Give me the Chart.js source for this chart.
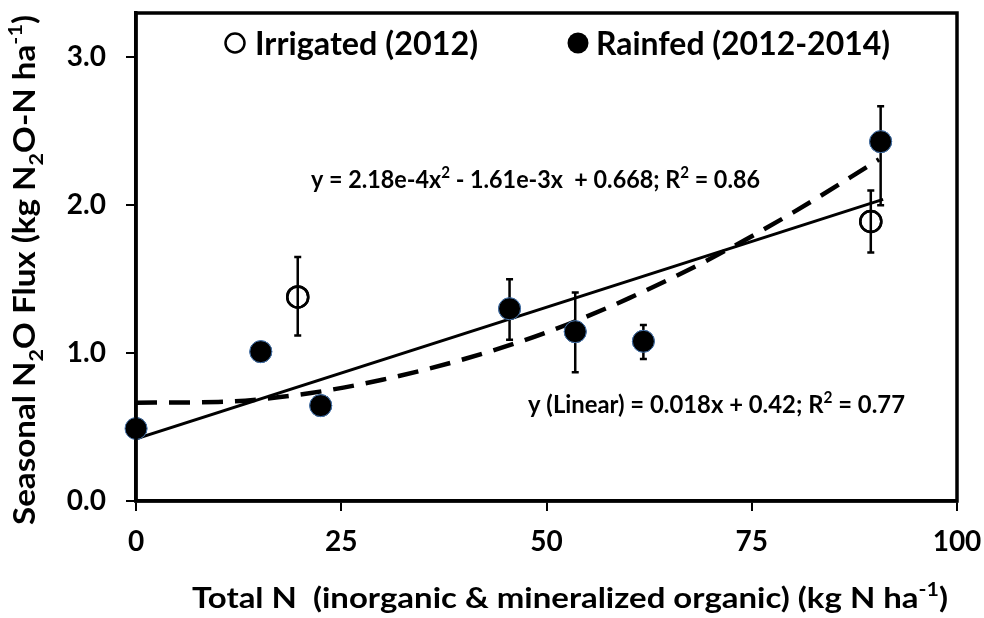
<!DOCTYPE html>
<html><head><meta charset="utf-8">
<script src="https://cdn.jsdelivr.net/npm/chart.js@4/dist/chart.umd.min.js"></script>
<style>html,body{margin:0;padding:0;background:#fff}#wrap{width:984px;height:618px}</style>
</head><body><div id="wrap"><canvas id="c" width="984" height="618"></canvas></div>
<script>
// Data
const irrigatedX = [19.7, 89.5];
const irrigatedY = [1.38, 1.89];
const irrigatedLo = [1.12, 1.68];
const irrigatedHi = [1.65, 2.10];

const rainfedX = [0, 15.2, 22.5, 45.5, 53.5, 61.8, 90.7];
const rainfedY = [0.49, 1.01, 0.645, 1.30, 1.145, 1.08, 2.43];
const rainfedLo = [null, null, null, 1.09, 0.87, 0.96, 2.00];
const rainfedHi = [null, null, null, 1.50, 1.41, 1.19, 2.67];

const linearX = [0, 91];
const linearY = [0.42, 2.04];

const quadX = [0, 10, 20, 30, 40, 50, 60, 70, 80, 90.5];
const quadY = [0.665, 0.67, 0.72, 0.82, 0.96, 1.14, 1.37, 1.64, 1.95, 2.31];

const xTicks = [0, 25, 50, 75, 100];
const yTicks = [0, 1, 2, 3];

const FONT = 'Lato, "Open Sans", sans-serif';
const pts = (xs, ys) => xs.map((x, i) => ({x, y: ys[i]}));

// draw bold text with sub/superscripts; stretched horizontally to a target width
function drawRich(ctx, segs, x, y, size, align, target) {
  ctx.save();
  ctx.textBaseline = 'alphabetic';
  ctx.textAlign = 'left';
  ctx.fillStyle = '#000';
  let total = 0;
  const widths = segs.map(s => {
    ctx.font = 'bold ' + (s.s ? size * 0.65 : size) + 'px ' + FONT;
    const w = ctx.measureText(s.t).width; total += w; return w;
  });
  const sx = target ? target / total : 1;
  const drawn = total * sx;
  const start = align === 'center' ? x - drawn / 2 : x;
  ctx.translate(start, y);
  ctx.scale(sx, 1);
  let cx = 0;
  segs.forEach((s, i) => {
    ctx.font = 'bold ' + (s.s ? size * 0.65 : size) + 'px ' + FONT;
    const dy = s.s === 'sub' ? size * 0.28 : s.s === 'sup' ? -size * 0.42 : 0;
    ctx.fillText(s.t, cx, dy);
    cx += widths[i];
  });
  ctx.restore();
}

const extras = {
  id: 'extras',
  afterDatasetsDraw(chart) {
    const {ctx, chartArea: a, scales: {x, y}} = chart;
    ctx.save();
    ctx.strokeStyle = '#000';
    ctx.lineWidth = 2.5;
    const bars = (xs, lo, hi) => xs.forEach((xv, i) => {
      if (lo[i] == null) return;
      const px = x.getPixelForValue(xv), p1 = y.getPixelForValue(lo[i]), p2 = y.getPixelForValue(hi[i]);
      ctx.beginPath();
      ctx.moveTo(px, p1); ctx.lineTo(px, p2);
      ctx.moveTo(px - 3.5, p1); ctx.lineTo(px + 3.5, p1);
      ctx.moveTo(px - 3.5, p2); ctx.lineTo(px + 3.5, p2);
      ctx.stroke();
    });
    bars(irrigatedX, irrigatedLo, irrigatedHi);
    bars(rainfedX, rainfedLo, rainfedHi);
    // markers drawn again over the error bars
    irrigatedX.forEach((xv, i) => {
      ctx.beginPath();
      ctx.arc(x.getPixelForValue(xv), y.getPixelForValue(irrigatedY[i]), 10.5, 0, Math.PI * 2);
      ctx.lineWidth = 2.5; ctx.strokeStyle = '#000'; ctx.stroke();
    });
    rainfedX.forEach((xv, i) => {
      ctx.beginPath();
      ctx.arc(x.getPixelForValue(xv), y.getPixelForValue(rainfedY[i]), 11, 0, Math.PI * 2);
      ctx.fillStyle = '#000'; ctx.fill();
      ctx.lineWidth = 1; ctx.strokeStyle = '#4a78b0'; ctx.stroke();
    });
    // box
    ctx.lineWidth = 3.5;
    ctx.strokeStyle = '#000';
    ctx.strokeRect(a.left, a.top, a.right - a.left, a.bottom - a.top);
    // legend
    ctx.lineWidth = 2.5;
    ctx.beginPath(); ctx.arc(235, 43, 9.5, 0, Math.PI * 2); ctx.stroke();
    ctx.fillStyle = '#000';
    ctx.beginPath(); ctx.arc(578, 43, 10.5, 0, Math.PI * 2); ctx.fill();
    drawRich(ctx, [{t: 'Irrigated (2012)'}], 255, 55, 32, 'left', 223);
    drawRich(ctx, [{t: 'Rainfed (2012-2014)'}], 596, 55, 32, 'left', 294);
    // equations
    drawRich(ctx, [{t: 'y = 2.18e-4x'}, {t: '2', s: 'sup'}, {t: ' - 1.61e-3x  + 0.668; R'}, {t: '2', s: 'sup'}, {t: ' = 0.86'}], 311, 188, 25, 'left', 449);
    drawRich(ctx, [{t: 'y (Linear) = 0.018x + 0.42; R'}, {t: '2', s: 'sup'}, {t: ' = 0.77'}], 528, 413, 25, 'left', 377);
    // axis titles
    drawRich(ctx, [{t: 'Total N  (inorganic & mineralized organic) (kg N ha'}, {t: '-1', s: 'sup'}, {t: ')'}], 570, 608, 28, 'center', 756);
    ctx.translate(35, 270);
    ctx.rotate(-Math.PI / 2);
    drawRich(ctx, [{t: 'Seasonal N'}, {t: '2', s: 'sub'}, {t: 'O Flux (kg N'}, {t: '2', s: 'sub'}, {t: 'O-N ha'}, {t: '-1', s: 'sup'}, {t: ')'}], 0, 0, 30, 'center', 510);
    ctx.restore();
  }
};

new Chart(document.getElementById('c'), {
  type: 'scatter',
  data: {
    datasets: [
      {label: 'Linear', type: 'line', data: pts(linearX, linearY), borderColor: '#000', borderWidth: 3, pointRadius: 0, fill: false},
      {label: 'Quadratic', type: 'line', data: pts(quadX, quadY), borderColor: '#000', borderWidth: 4.5, borderDash: [21, 12], pointRadius: 0, fill: false, cubicInterpolationMode: 'monotone'},
      {label: 'Irrigated (2012)', data: pts(irrigatedX, irrigatedY), pointRadius: 10.5, backgroundColor: '#fff', borderColor: '#000', borderWidth: 2.5},
      {label: 'Rainfed (2012-2014)', data: pts(rainfedX, rainfedY), pointRadius: 11, backgroundColor: '#000', borderColor: '#4a78b0', borderWidth: 1}
    ]
  },
  options: {
    responsive: false,
    animation: false,
    layout: {padding: {top: 8, right: 27, left: 0, bottom: 0}},
    plugins: {legend: {display: false}, tooltip: {enabled: false}},
    scales: {
      x: {
        type: 'linear', min: 0, max: 100,
        afterBuildTicks: s => { s.ticks = xTicks.map(v => ({value: v})); },
        afterFit: s => { s.height = 117; s.paddingLeft = 0; s.paddingRight = 0; },
        grid: {drawOnChartArea: false, color: '#000', lineWidth: 2, tickLength: 10},
        border: {display: true, color: '#000', width: 3.5},
        ticks: {color: '#000', font: {family: FONT, size: 28, weight: 'bold'}, padding: 14, maxRotation: 0}
      },
      y: {
        type: 'linear', min: 0, max: 3.3,
        afterBuildTicks: s => { s.ticks = yTicks.map(v => ({value: v})); },
        afterFit: s => { s.width = 136; s.paddingTop = 0; s.paddingBottom = 0; },
        grid: {drawOnChartArea: false, color: '#000', lineWidth: 2, tickLength: 10},
        border: {display: true, color: '#000', width: 3.5},
        ticks: {color: '#000', font: {family: FONT, size: 28, weight: 'bold'}, padding: 20, callback: v => Number(v).toFixed(1)}
      }
    }
  },
  plugins: [extras]
});
</script></body></html>
